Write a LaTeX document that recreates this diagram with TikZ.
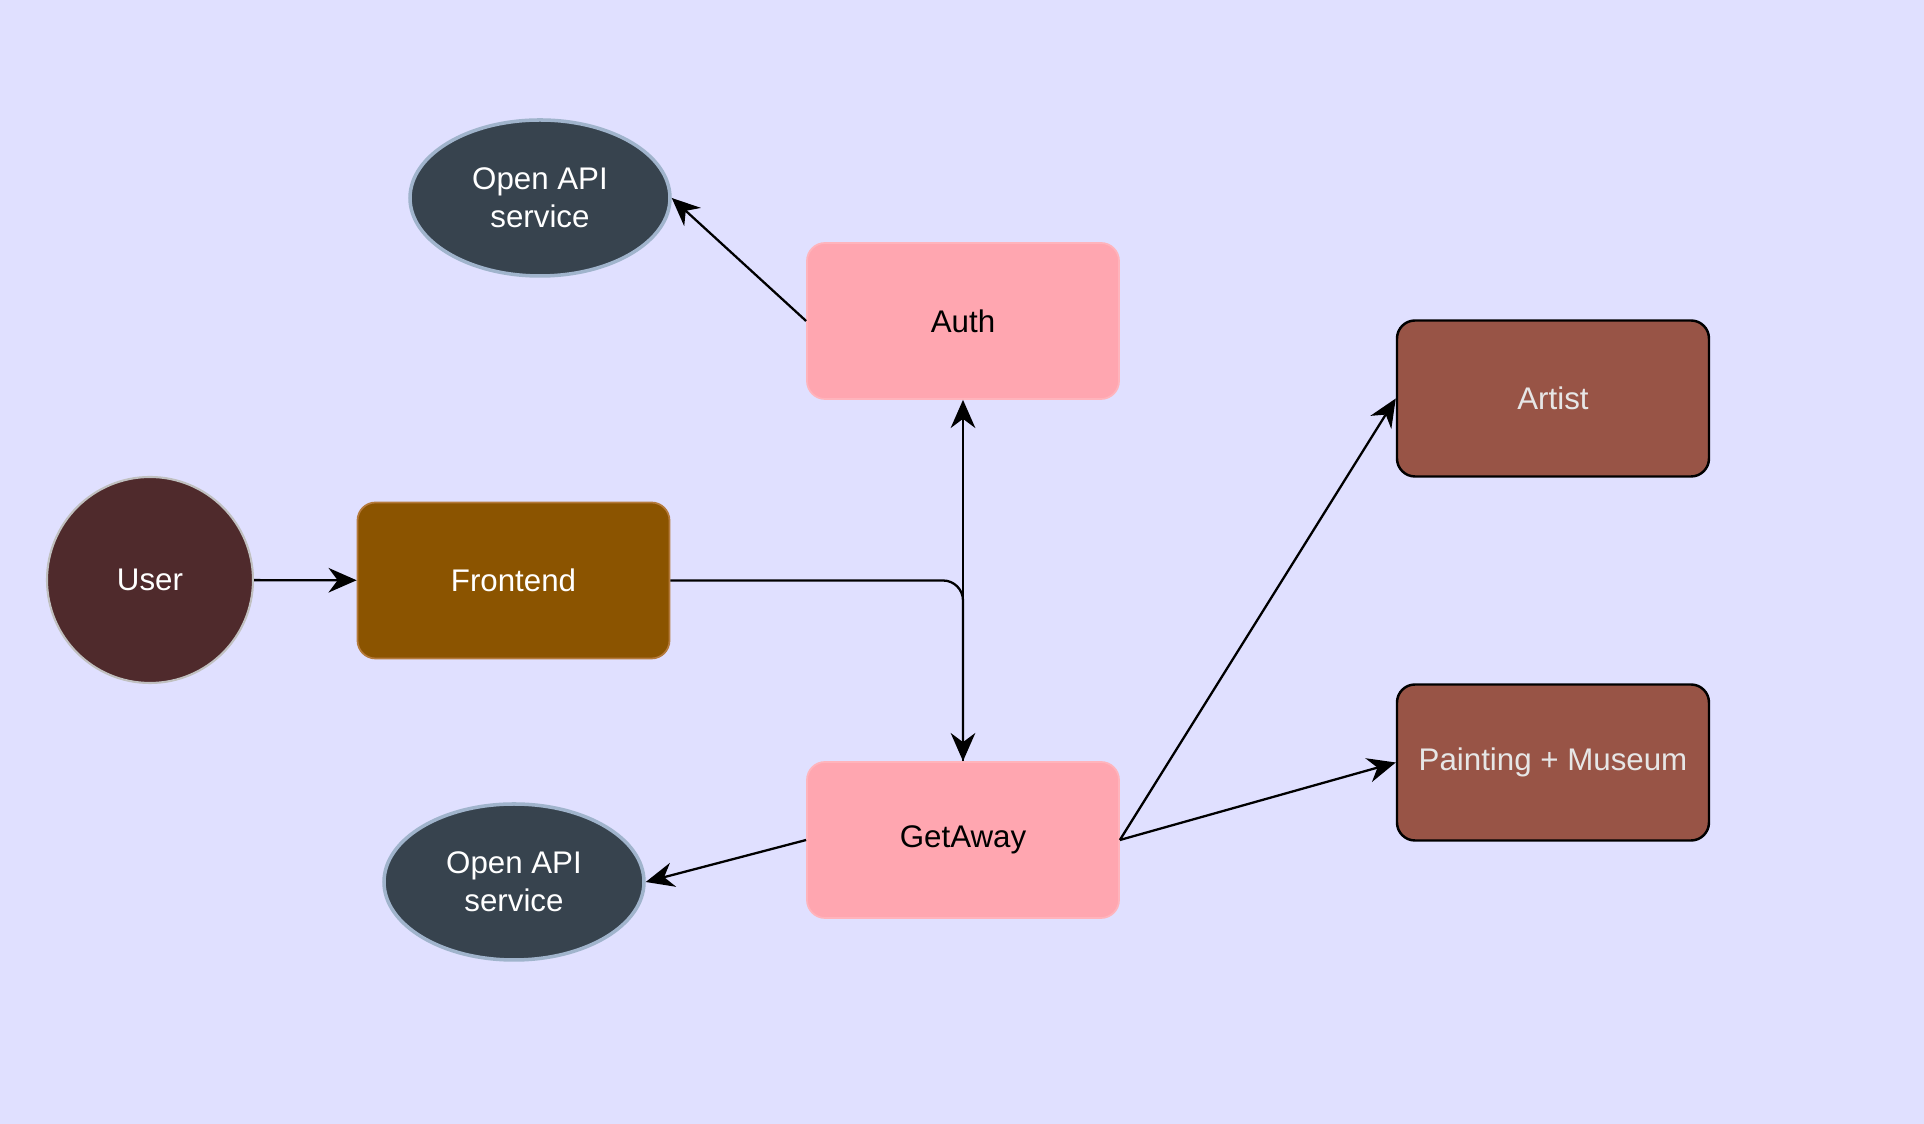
\documentclass[tikz,border=0pt]{standalone}
\usepackage{fontspec}
\setmainfont{Liberation Sans}
\usetikzlibrary{shapes.geometric,arrows.meta}

\definecolor{bgcol}{RGB}{224,224,255}
\definecolor{apifill}{RGB}{55,67,78}
\definecolor{apiline}{RGB}{160,180,204}
\definecolor{pinkfill}{RGB}{255,166,176}
\definecolor{pinkline}{RGB}{255,180,188}
\definecolor{brownfill}{RGB}{152,84,70}
\definecolor{frontfill}{RGB}{139,84,0}
\definecolor{frontline}{RGB}{181,122,60}
\definecolor{userfill}{RGB}{79,42,44}
\definecolor{userline}{RGB}{192,192,192}
\definecolor{lighttext}{RGB}{230,230,230}

\tikzset{
  box/.style={rectangle,rounded corners=0.18cm,minimum width=3.12cm,minimum height=1.56cm,
    inner sep=0pt,font=\fontsize{8.9}{10.8}\selectfont},
  service/.style={box,fill=pinkfill,draw=pinkline,line width=0.5pt,text=black},
  entitybox/.style={box,fill=brownfill,draw=black,line width=0.7pt,text=lighttext},
  openapi/.style={ellipse,fill=apifill,draw=apiline,line width=1pt,minimum width=2.6cm,
    minimum height=1.56cm,inner sep=0pt,align=center,text=white,font=\fontsize{8.9}{10.8}\selectfont},
  link/.style={-{Stealth[length=8pt,width=7pt]},line width=0.65pt,black}
}

\begin{document}
\begin{tikzpicture}
\fill[bgcol] (0,0) rectangle (19.24,-11.24);
\useasboundingbox (0,0) rectangle (19.24,-11.24);

\node[circle,fill=userfill,draw=userline,line width=0.6pt,minimum size=2.06cm,inner sep=0pt,
  text=white,font=\fontsize{8.9}{10.8}\selectfont] (user) at (1.50,-5.80) {User};
\node[box,fill=frontfill,draw=frontline,line width=0.5pt,text=white] (frontend) at (5.135,-5.805) {Frontend};
\node[service] (auth) at (9.63,-3.21) {Auth};
\node[service] (getaway) at (9.63,-8.40) {GetAway};
\node[entitybox] (artist) at (15.53,-3.985) {Artist};
\node[entitybox] (painting) at (15.53,-7.625) {Painting + Museum};
\node[openapi] (api1) at (5.40,-1.98) {Open API\\service};
\node[openapi] (api2) at (5.14,-8.82) {Open API\\service};

\draw[link] (user) -- (frontend);
\draw[link,rounded corners=0.2cm] (frontend.east) -| (getaway.north);
\draw[link] (getaway.north) -- (auth.south);
\draw[link] (auth.west) -- (api1.east);
\draw[link] (getaway.west) -- (api2.east);
\draw[link] (getaway.east) -- (artist.west);
\draw[link] (getaway.east) -- (painting.west);

\end{tikzpicture}
\end{document}
